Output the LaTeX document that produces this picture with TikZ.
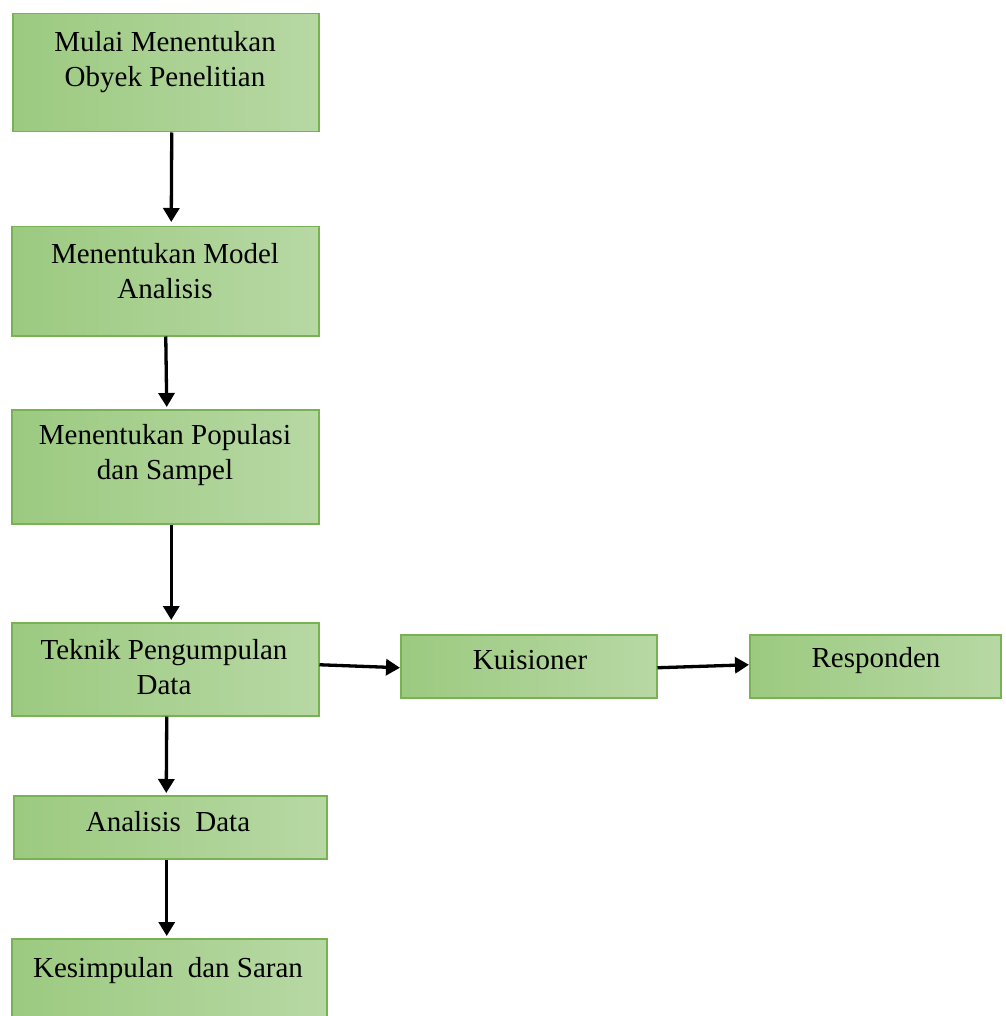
\documentclass[tikz,border=0pt]{standalone}
\usepackage{fontspec}
\setmainfont{Liberation Serif}
\usetikzlibrary{arrows.meta}
\definecolor{gdark}{HTML}{9CCA80}
\definecolor{glight}{HTML}{B7D8A4}
\definecolor{gborder}{HTML}{78B252}
\tikzset{
  box/.style={draw=gborder, line width=1.5pt, left color=gdark, right color=glight, minimum width=0pt, inner sep=0pt},
  txt/.style={font=\fontsize{29}{35}\selectfont, align=center, inner sep=0pt},
  arr/.style={line width=3.3pt, -{Triangle[length=14pt,width=16pt]}}
}
\begin{document}
\begin{tikzpicture}[x=1pt,y=-1pt]
\useasboundingbox (0,0) rectangle (1005,1016);
% boxes (top-left corner to bottom-right corner, in pixels)
\node[box, minimum width=306pt, minimum height=118pt, anchor=north west] (b1) at (12,13) {};
\node[box, minimum width=307pt, minimum height=109pt, anchor=north west] (b2) at (11,226) {};
\node[box, minimum width=307pt, minimum height=114pt, anchor=north west] (b3) at (11,409) {};
\node[box, minimum width=307pt, minimum height=93pt, anchor=north west] (b4) at (11,622) {};
\node[box, minimum width=256pt, minimum height=63pt, anchor=north west] (k) at (400,634) {};
\node[box, minimum width=251pt, minimum height=63pt, anchor=north west] (r) at (749,634) {};
\node[box, minimum width=313pt, minimum height=63pt, anchor=north west] (a) at (13,795) {};
\node[box, minimum width=315pt, minimum height=90pt, anchor=north west] (s) at (11,938) {};
% texts
\node[txt] (t1) at (165,62) {Mulai Menentukan\\Obyek Penelitian};
\node[txt] (t2) at (165,271) {Menentukan Model\\Analisis};
\node[txt] (t3) at (165,455) {Menentukan Populasi\\dan Sampel};
\node[txt] (t4) at (164,667) {Teknik Pengumpulan\\Data};
\node[txt] (tk) at (530,660) {Kuisioner};
\node[txt] (tr) at (876,661) {Responden};
\node[txt] (ta) at (168,822) {Analisis~ Data};
\node[txt] (ts) at (168,971) {Kesimpulan~ dan Saran};
% connectors
\draw[arr] ([xshift=6pt]b1.south) -- ([xshift=6pt,yshift=4pt]b2.north);
\draw[arr] ([xshift=0.5pt]b2.south) -- ([xshift=1.5pt,yshift=2pt]b3.north);
\draw[arr] ([xshift=6pt]b3.south) -- ([xshift=6pt,yshift=2pt]b4.north);
\draw[arr] ([xshift=1.5pt]b4.south) -- ([xshift=-4pt,yshift=2pt]a.north);
\draw[arr] ([xshift=-3.5pt]a.south) -- ([xshift=-2.5pt,yshift=2pt]s.north);
\draw[arr] ([yshift=4.5pt]b4.east) -- ([yshift=-1.5pt]k.west);
\draw[arr] ([yshift=-1.5pt]k.east) -- ([yshift=1.5pt]r.west);
\end{tikzpicture}
\end{document}
